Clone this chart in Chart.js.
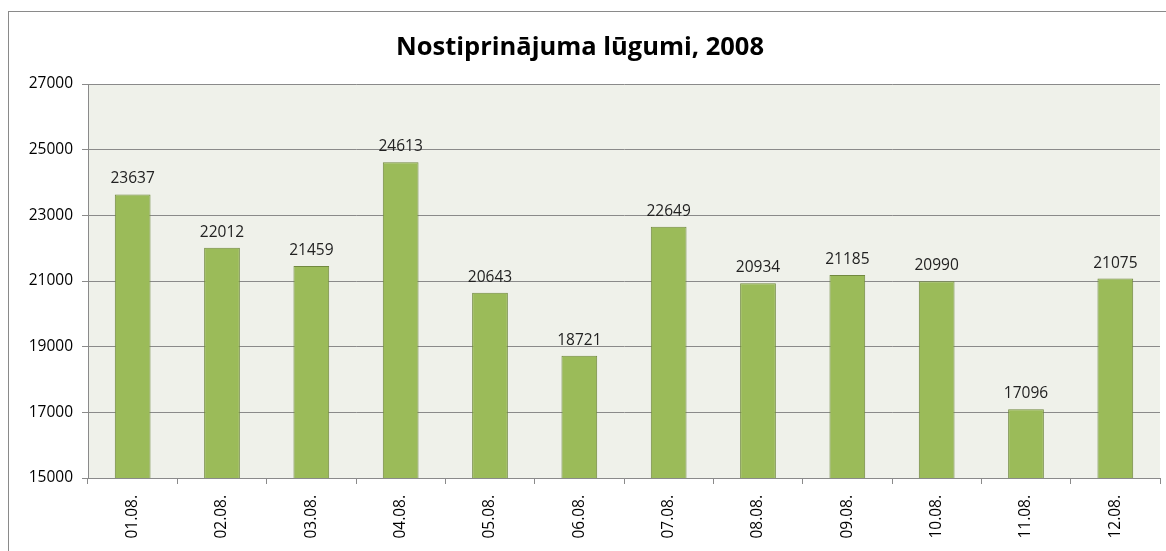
<!DOCTYPE html>
<html>
<head>
<meta charset="utf-8">
<script src="https://cdn.jsdelivr.net/npm/chart.js@4.4.1/dist/chart.umd.min.js"></script>
<style>
  html, body { margin: 0; padding: 0; background: #ffffff; overflow: hidden; }
  #wrap { position: relative; width: 1166px; height: 551px; }
</style>
</head>
<body>
<div id="wrap"><canvas id="c" width="1166" height="551"></canvas></div>
<script>
const chartTitle = "Nostiprinājuma lūgumi, 2008";
const categories = ["01.08.", "02.08.", "03.08.", "04.08.", "05.08.", "06.08.", "07.08.", "08.08.", "09.08.", "10.08.", "11.08.", "12.08."];
const requests = [23637, 22012, 21459, 24613, 20643, 18721, 22649, 20934, 21185, 20990, 17096, 21075];
const yMin = 15000;
const yMax = 27000;
const yStep = 2000;

const FONT = "'Open Sans', 'Noto Sans', sans-serif";

const decorPlugin = {
  id: 'decor',
  beforeDraw(chart) {
    const ctx = chart.ctx;
    const a = chart.chartArea;
    ctx.save();
    ctx.fillStyle = '#ffffff';
    ctx.fillRect(0, 0, chart.width, chart.height);
    ctx.strokeStyle = '#8a8a8a';
    ctx.lineWidth = 1;
    ctx.strokeRect(8.5, 11.5, 3000, 3000);
    ctx.fillStyle = '#eff1ea';
    ctx.fillRect(a.left, a.top, a.right - a.left, a.bottom - a.top);
    ctx.restore();
  },
  afterDatasetsDraw(chart) {
    const ctx = chart.ctx;
    const meta = chart.getDatasetMeta(0);
    const data = chart.data.datasets[0].data;
    ctx.save();
    ctx.font = "15.5px " + FONT;
    ctx.fillStyle = '#222222';
    ctx.textAlign = 'center';
    ctx.textBaseline = 'alphabetic';
    meta.data.forEach((bar, i) => {
      ctx.fillText(String(data[i]), bar.x, bar.y - 11);
    });
    ctx.restore();
  }
};

new Chart(document.getElementById('c'), {
  type: 'bar',
  data: {
    labels: categories,
    datasets: [{
      data: requests,
      backgroundColor: '#9bbb59',
      borderColor: '#71893f',
      borderWidth: 1,
      barPercentage: 0.4,
      categoryPercentage: 1.0
    }]
  },
  options: {
    responsive: false,
    animation: false,
    devicePixelRatio: 1,
    layout: { padding: { left: 0, right: 6, top: 0, bottom: 0 } },
    plugins: {
      legend: { display: false },
      tooltip: { enabled: false },
      title: {
        display: true,
        text: chartTitle,
        color: '#000000',
        font: { family: FONT, size: 25.5, weight: 'bold', lineHeight: 1.2 },
        padding: { top: 32.5, bottom: 20.9 }
      }
    },
    scales: {
      x: {
        grid: {
          display: true,
          drawOnChartArea: false,
          drawTicks: true,
          tickLength: 6,
          color: '#8a8a8a',
          offset: true
        },
        border: { display: true, color: '#8a8a8a' },
        ticks: {
          color: '#000000',
          font: { family: FONT, size: 15.5 },
          minRotation: 90,
          maxRotation: 90,
          padding: 11,
          autoSkip: false
        },
        afterFit(scale) { scale.height = 73; }
      },
      y: {
        min: yMin,
        max: yMax,
        grid: {
          color: '#8a8a8a',
          drawTicks: true,
          tickLength: 6
        },
        border: { display: true, color: '#8a8a8a' },
        ticks: {
          stepSize: yStep,
          color: '#000000',
          font: { family: FONT, size: 15.5 },
          padding: 9,
          callback: (v) => String(v)
        },
        afterFit(scale) { scale.width = 88; }
      }
    }
  },
  plugins: [decorPlugin]
});
</script>
</body>
</html>
